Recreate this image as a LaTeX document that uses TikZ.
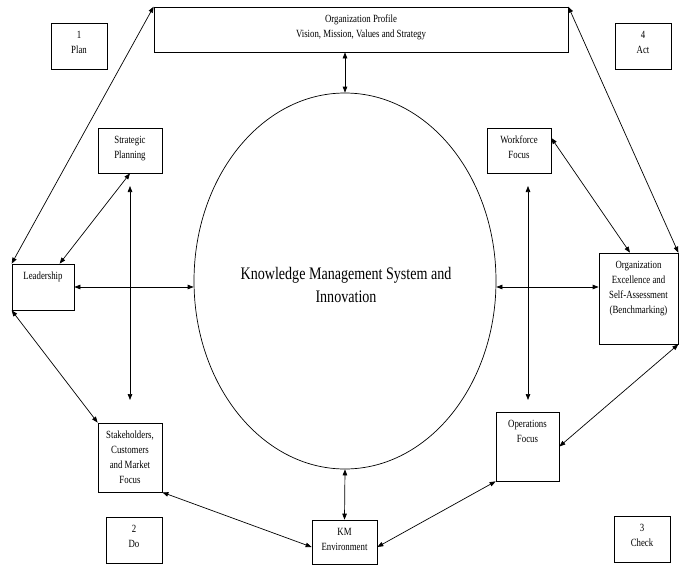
\documentclass[tikz,border=0pt]{standalone}
\usepackage{fontspec}
\setmainfont{Liberation Serif}[FakeStretch=0.8]
\usetikzlibrary{shapes.geometric,arrows.meta,calc}
\begin{document}
\begin{tikzpicture}[x=1pt,y=-1pt,
  box/.style={draw, line width=0.7pt, inner sep=0pt},
  lab/.style={anchor=north, inner sep=0pt, align=center, font=\fontsize{11}{15}\selectfont, yshift=-5.5pt},
  dbl/.style={{Triangle[length=6pt,width=4.5pt]}-{Triangle[length=6pt,width=4.5pt]}, line width=0.7pt},
  big/.style={font=\fontsize{17.6}{23}\selectfont, align=center, inner sep=0pt}]
\useasboundingbox (0,0) rectangle (686,565);

% ellipse
\node[draw, ellipse, line width=0.7pt, inner sep=0pt, minimum width=302, minimum height=376] (kme) at (345,281) {};
\node[big] (kmt) at (346,284.5) {Knowledge Management System and\\Innovation};

% boxes
\node[box, minimum width=414, minimum height=45, label={[lab]north:{\strut Organization Profile\\Vision, Mission, Values and Strategy}}] (top) at (361,29.5) {};
\node[box, minimum width=56, minimum height=46, label={[lab]north:{\strut 1\\Plan}}] (plan) at (79,46) {};
\node[box, minimum width=56, minimum height=46, label={[lab]north:{\strut 4\\Act}}] (act) at (643,46) {};
\node[box, minimum width=64, minimum height=45, label={[lab]north:{\strut Strategic\\Planning}}] (sp) at (130,150.5) {};
\node[box, minimum width=64, minimum height=45, label={[lab]north:{\strut Workforce\\Focus}}] (wf) at (519,150.5) {};
\node[box, minimum width=62, minimum height=46, label={[lab]north:{\strut Leadership}}] (lead) at (43,287) {};
\node[box, minimum width=79, minimum height=91, label={[lab]north:{\strut Organization\\Excellence and\\Self-Assessment\\(Benchmarking)}}] (oe) at (638.5,298.5) {};
\node[box, minimum width=64, minimum height=69, label={[lab]north:{\strut Stakeholders,\\Customers\\and Market\\Focus}}] (sh) at (130,457.5) {};
\node[box, minimum width=63, minimum height=69, label={[lab]north:{\strut Operations\\Focus}}] (ops) at (527.5,446.5) {};
\node[box, minimum width=56, minimum height=46, label={[lab]north:{\strut 2\\Do}}] (do) at (134,540) {};
\node[box, minimum width=65, minimum height=44, label={[lab]north:{\strut KM\\Environment}}] (kmb) at (344.5,542) {};
\node[box, minimum width=56, minimum height=46, label={[lab]north:{\strut 3\\Check}}] (check) at (642,539) {};

% free ends of the vertical arrows
\coordinate (vl1) at (130,186);
\coordinate (vl2) at (130,400);
\coordinate (vr1) at (528,186);
\coordinate (vr2) at (528,400);

% connectors
\draw[dbl] (kme.north |- top.south) -- (kme.north);
\draw[dbl] (kme.south) -- (kmb.north);
\draw[dbl] (lead.east) -- (lead.east -| kme.west);
\draw[dbl] (lead.east -| kme.east) -- (lead.east -| oe.west);
\draw[dbl] (vl1) -- (vl2);
\draw[dbl] (vr1) -- (vr2);
\draw[dbl] (top.north west) -- (lead.north west);
\draw[dbl] (top.north east) -- (oe.north east);
\draw[dbl] (sp.south) -- ([xshift=48pt]lead.north west);
\draw[dbl] (lead.south west) -- (sh.north west);
\draw[dbl] ([yshift=12.5pt]wf.east) -- ([xshift=-8.5pt]oe.north);
\draw[dbl] (oe.south east) -- (ops.east);
\draw[dbl] (sh.south east) -- ([yshift=-5pt]kmb.west);
\draw[dbl] ([yshift=-5pt]kmb.east) -- (ops.south west);
\end{tikzpicture}
\end{document}
